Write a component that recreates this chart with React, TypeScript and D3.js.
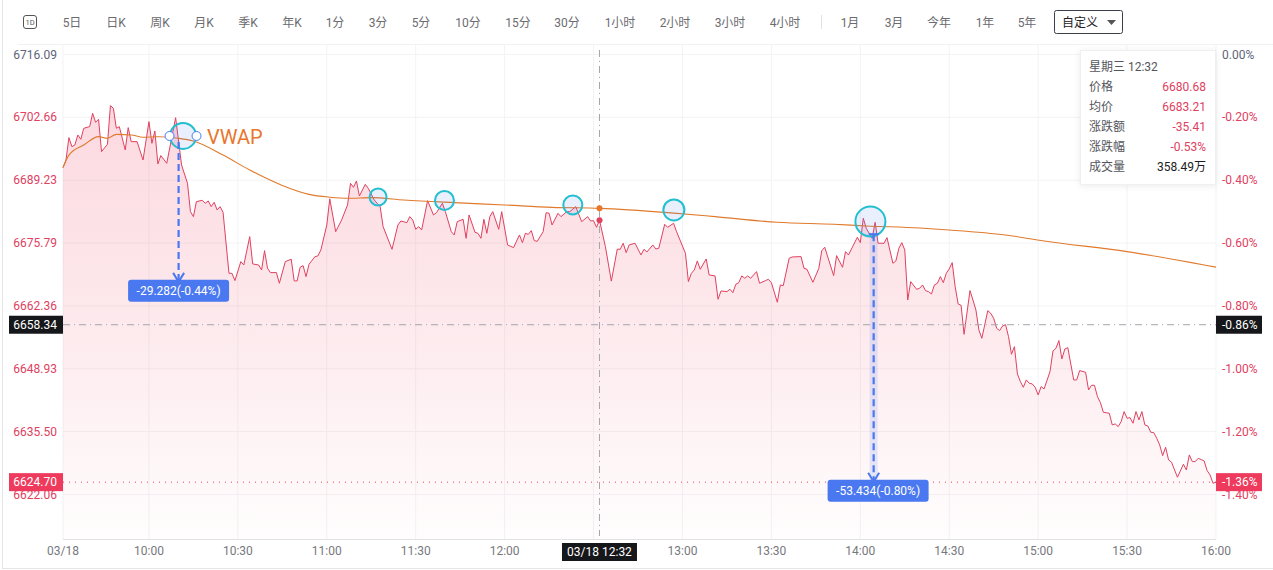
import { useEffect, useRef } from 'react';
import * as d3 from 'd3';

// toolbar
const toolbarLabels = ['5日', '日K', '周K', '月K', '季K', '年K', '1分', '3分', '5分', '10分', '15分', '30分', '1小时', '2小时', '3小时', '4小时', '1月', '3月', '今年', '1年', '5年'];
const toolbarCenters = [72, 116, 160, 204, 248, 292, 335, 378, 421, 468, 518, 567, 620, 675, 730, 785, 850, 894, 939, 985, 1027];

// axes
const yTicks = [6716.09, 6702.66, 6689.23, 6675.79, 6662.36, 6648.93, 6635.5, 6622.06];
const pctLabels = ['0.00%', '-0.20%', '-0.40%', '-0.60%', '-0.80%', '-1.00%', '-1.20%', '-1.40%'];
const gridMinutes = [30, 60, 90, 120, 150, 180, 210, 240, 270, 300, 330, 360, 390];
const timeLabels = ['10:00', '10:30', '11:00', '11:30', '12:00', '', '13:00', '13:30', '14:00', '14:30', '15:00', '15:30', '16:00'];

// minutes since 09:30
const minutes = [
  1, 2, 3, 4, 5, 6, 7, 8, 10, 11, 12, 13, 14, 16, 17, 18, 19, 20, 22, 23, 24, 26, 28, 30, 31, 32, 33, 34, 36, 39, 41, 43, 44, 45, 46, 48, 49, 50, 51, 52, 53, 54, 55, 57, 58, 59, 61, 62, 64, 65, 67, 68, 69, 70, 71, 73, 74, 76, 78, 79, 80, 81, 82, 83, 84, 86, 87, 88, 90, 91,
  93, 95, 97, 98, 99, 100, 101, 103, 104, 106, 107, 108, 109, 112, 114, 115, 117, 118, 119, 120, 121, 122, 124, 126, 127, 129, 130, 132, 133, 134, 136, 137, 138, 140, 141, 142, 143, 144, 145, 146, 148, 149, 151, 153, 155, 156, 157, 158, 159, 160, 161, 163, 164, 165, 166, 168, 169, 171, 172, 174, 176, 178, 179, 180, 181, 182,
  184, 186, 188, 189, 190, 191, 192, 194, 196, 197, 198, 200, 201, 202, 204, 205, 207, 208, 211, 212, 213, 214, 215, 216, 218, 219, 221, 222, 223, 225, 226, 227, 228, 229, 230, 231, 232, 233, 235, 236, 238, 239, 240, 242, 243, 244, 246, 247, 250, 251, 252, 254, 256, 257, 258, 261, 262, 264, 265, 266, 269, 270, 271, 272, 274, 275, 276, 278, 279,
  281, 282, 283, 284, 285, 286, 287, 289, 290, 291, 292, 293, 294, 295, 296, 297, 298, 299, 300, 301, 302, 303, 304, 305, 307, 308, 309, 310, 311, 313, 314, 315, 316, 317, 318, 319, 320, 321, 322, 323, 324, 325, 326, 327, 328, 329, 330, 331, 332, 334, 335, 336, 337, 338, 339, 340, 342, 343, 344, 346, 347, 348, 349, 350, 351, 352, 354, 355, 356, 357, 358, 359, 360, 361, 362, 363, 364, 365, 366, 367, 368, 369, 370, 371, 372, 373, 374, 375, 377, 379, 380, 381, 382, 383, 384, 386, 387, 388, 389, 390,
];
const prices = [
  6691.91, 6693.55, 6698.32, 6696.4, 6696.75, 6698.89, 6697.97, 6700.32, 6700.67, 6703.52, 6701.6, 6702.24, 6695.33, 6696.9, 6705.16, 6704.59, 6700.32, 6700.67, 6695.69, 6700.46, 6697.47, 6697.47, 6693.55, 6701.74, 6697.11, 6699.75, 6692.7, 6694.48, 6692.84, 6702.59, 6692.48, 6688.56, 6682.51, 6681.44, 6684.65, 6684.93, 6684.29, 6684.79, 6683.58, 6684.5, 6682.87, 6683.58, 6682.37, 6669.33, 6669.33, 6667.77, 6671.83, 6671.11, 6677.17, 6671.33, 6671.11, 6670.05, 6674.18, 6670.4, 6669.48, 6669.48, 6667.2, 6671.83, 6672.33, 6667.7, 6667.7, 6670.62, 6670.97, 6668.62, 6671.26, 6672.9, 6673.04, 6674.32, 6679.66, 6685.25,
  6678.23, 6680.73, 6683.93, 6688.56, 6687.71, 6689.06, 6685.85, 6688.35, 6687.49, 6685.0, 6684.29, 6683.58, 6679.3, 6674.46, 6679.66, 6680.51, 6680.16, 6681.44, 6680.73, 6678.73, 6679.3, 6678.59, 6684.86, 6681.8, 6682.29, 6684.29, 6682.51, 6678.23, 6677.52, 6680.37, 6680.87, 6676.81, 6681.8, 6678.09, 6677.88, 6676.81, 6680.87, 6677.88, 6681.44, 6682.51, 6678.73, 6682.51, 6675.39, 6674.82, 6677.52, 6675.88, 6677.88, 6677.66, 6678.45, 6676.31, 6676.17, 6678.23, 6682.29, 6682.15, 6679.66, 6682.15, 6681.44, 6682.51, 6682.51, 6683.58, 6680.37, 6681.44, 6680.51, 6680.58, 6679.16, 6680.68,
  6675.03, 6667.66, 6674.5, 6674.46, 6675.75, 6673.75, 6675.39, 6675.75, 6673.25, 6674.46, 6673.89, 6675.39, 6674.53, 6674.68, 6679.8, 6679.16, 6680.02, 6678.24, 6673.61, 6667.55, 6669.33, 6670.05, 6671.97, 6670.19, 6672.4, 6668.98, 6668.77, 6663.78, 6665.56, 6665.42, 6665.92, 6665.2, 6666.98, 6667.34, 6668.77, 6668.27, 6668.77, 6668.27, 6669.69, 6667.2, 6667.77, 6668.05, 6667.34, 6663.14, 6666.84, 6666.7, 6672.54, 6672.82, 6672.9, 6670.4, 6670.19, 6667.41, 6670.4, 6674.18, 6674.89, 6668.84, 6673.11, 6670.62, 6673.96, 6673.25, 6677.03, 6675.89, 6681.09, 6678.95, 6676.81, 6680.23, 6675.75, 6675.75, 6676.96,
  6671.47, 6671.97, 6674.67, 6675.88, 6674.32, 6663.63, 6667.55, 6665.91, 6666.13, 6666.84, 6665.63, 6665.41, 6664.92, 6666.84, 6667.2, 6668.62, 6667.34, 6669.33, 6670.26, 6671.61, 6666.48, 6662.78, 6662.49, 6656.3, 6665.63, 6663.63, 6661.5, 6657.22, 6655.44, 6661.35, 6660.78, 6659.72, 6657.58, 6657.08, 6658.08, 6658.36, 6655.8, 6652.03, 6653.66, 6647.82, 6646.18, 6644.97, 6646.54, 6645.83, 6645.69, 6644.97, 6643.34, 6645.12, 6644.62, 6648.32, 6652.74, 6653.31, 6654.95, 6651.03, 6653.16, 6653.45, 6646.54, 6646.54, 6648.54, 6648.18, 6644.4, 6645.4, 6645.4, 6642.98, 6641.7, 6639.63, 6639.42, 6636.93, 6637.14, 6636.57, 6637.64, 6639.78, 6638.35, 6638.49, 6637.28, 6639.78, 6638.0, 6639.78, 6636.93, 6636.71, 6635.36, 6635.29, 6634.08, 6632.65, 6630.37, 6632.15, 6629.45, 6628.95, 6625.75, 6628.52, 6627.31, 6630.52, 6629.09, 6629.09, 6629.8, 6629.23, 6627.17, 6626.24, 6624.46, 6624.7,
];

const vwapMinutes = [1, 3, 8, 13, 16, 19, 24, 28, 33, 40, 45, 55, 64, 75, 84, 91, 97, 105, 116, 133, 150, 166, 182, 205, 221, 242, 261, 272, 290, 300, 319, 332, 360, 390];
const vwapPrices = [6691.91, 6694.6, 6696.75, 6698.53, 6698.18, 6699.03, 6698.9, 6698.4, 6698.5, 6698.18, 6697.6, 6694.6, 6691.4, 6688.1, 6686.2, 6685.6, 6685.36, 6685.5, 6685.0, 6684.43, 6683.93, 6683.43, 6683.21, 6682.3, 6681.44, 6680.23, 6679.8, 6679.45, 6679.0, 6678.59, 6677.52, 6676.24, 6673.96, 6670.65];

// tooltip
const tipLabels = ['价格', '均价', '涨跌额', '涨跌幅', '成交量'];
const tipValues = ['6680.68', '6683.21', '-35.41', '-0.53%', '358.49万'];

// hand drawn marks on the chart
const ringMinutes = [41.5, 107.3, 129.7, 173, 207.1, 273.4];
const ringPrices = [6698.68, 6685.64, 6684.9, 6683.94, 6682.87, 6680.41];
const ringRadius = [13, 8.5, 9.5, 9.5, 10.5, 15];

const measureMinutes = [40, 274.5];
const measureFrom = [6697.4, 6677.7];
const measureTo = [6667.5, 6624.8];
const measureLabels = ['-29.282(-0.44%)', '-53.434(-0.80%)'];
const measureLabelMinutes = [40, 276];

const RED = '#e0415f';
const BLUE = '#4a78f0';
const FONT = "Roboto, 'Noto Sans CJK SC', sans-serif";

export default function App() {
  const ref = useRef<SVGSVGElement>(null);

  useEffect(() => {
    const svg = d3.select(ref.current);
    svg.selectAll('*').remove();
    svg.attr('font-family', FONT).attr('font-size', 12);

    const left = 63;
    const right = 1216;
    const bottom = 539;
    const x = d3.scaleLinear().domain([1, 390]).range([left, right]);
    const y = d3.scaleLinear().domain([6716.09, 6622.06]).range([54.5, 494.5]);

    const grad = svg.append('defs').append('linearGradient')
      .attr('id', 'areaFill')
      .attr('gradientUnits', 'userSpaceOnUse')
      .attr('x1', 0).attr('x2', 0).attr('y1', 105).attr('y2', bottom);
    grad.append('stop').attr('offset', 0).attr('stop-color', '#ee4a68').attr('stop-opacity', 0.21);
    grad.append('stop').attr('offset', 0.5).attr('stop-color', '#ee4a68').attr('stop-opacity', 0.12);
    grad.append('stop').attr('offset', 1).attr('stop-color', '#ee4a68').attr('stop-opacity', 0.01);

    // page frame
    svg.append('line').attr('x1', 2.5).attr('x2', 2.5).attr('y1', 0).attr('y2', 568).attr('stroke', '#e6e6e8');
    svg.append('line').attr('x1', 2).attr('x2', 1273).attr('y1', 568.5).attr('y2', 568.5).attr('stroke', '#e6e6e8');

    // toolbar
    svg.append('rect').attr('x', 23.5).attr('y', 15.5).attr('width', 13).attr('height', 13).attr('rx', 2.5)
      .attr('fill', 'none').attr('stroke', '#555');
    svg.append('text').attr('x', 30).attr('y', 25).attr('text-anchor', 'middle').attr('font-size', 7.5).attr('fill', '#555').text('1D');
    svg.append('g').selectAll('text').data(toolbarLabels).enter().append('text')
      .attr('x', (_, i) => toolbarCenters[i])
      .attr('y', 26.5)
      .attr('text-anchor', 'middle')
      .attr('fill', '#6b6b70')
      .text((d) => d);
    svg.append('line').attr('x1', 821.5).attr('x2', 821.5).attr('y1', 15).attr('y2', 29).attr('stroke', '#e2e2e4');
    svg.append('rect').attr('x', 1054.5).attr('y', 10.5).attr('width', 68).attr('height', 23).attr('rx', 2)
      .attr('fill', '#fff').attr('stroke', '#3a3f4a');
    svg.append('text').attr('x', 1062).attr('y', 26.5).attr('fill', '#222').text('自定义');
    svg.append('path').attr('d', 'M1107 20h9l-4.5 5z').attr('fill', '#555');
    svg.append('line').attr('x1', 18).attr('x2', 1273).attr('y1', 44.5).attr('y2', 44.5).attr('stroke', '#f1f1f3');

    // grid
    const grid = svg.append('g').attr('stroke', '#f2f3f5');
    grid.selectAll('.h').data(yTicks).enter().append('line').attr('class', 'h')
      .attr('x1', left).attr('x2', right).attr('y1', (d) => y(d)).attr('y2', (d) => y(d));
    grid.selectAll('.v').data(gridMinutes).enter().append('line').attr('class', 'v')
      .attr('x1', (d) => x(d)).attr('x2', (d) => x(d)).attr('y1', 44).attr('y2', bottom);
    grid.append('line').attr('x1', left).attr('x2', left).attr('y1', 44).attr('y2', bottom);
    svg.append('line').attr('x1', left).attr('x2', right).attr('y1', bottom + 0.5).attr('y2', bottom + 0.5).attr('stroke', '#e2e2e5');

    // price
    const points = minutes.map((m, i) => [m, prices[i]] as [number, number]);
    const area = d3.area<[number, number]>().x((d) => x(d[0])).y0(bottom).y1((d) => y(d[1]));
    const line = d3.line<[number, number]>().x((d) => x(d[0])).y((d) => y(d[1]));
    svg.append('path').attr('d', area(points)).attr('fill', 'url(#areaFill)');
    svg.append('path').attr('d', line(points)).attr('fill', 'none').attr('stroke', RED).attr('stroke-width', 1);

    const vwap = vwapMinutes.map((m, i) => [m, vwapPrices[i]] as [number, number]);
    const smooth = d3.line<[number, number]>().x((d) => x(d[0])).y((d) => y(d[1])).curve(d3.curveMonotoneX);
    svg.append('path').attr('d', smooth(vwap)).attr('fill', 'none').attr('stroke', '#e07a2c').attr('stroke-width', 1.1);

    // crosshair and last price line
    const cross = svg.append('g').attr('stroke', '#a4a6ad').attr('stroke-dasharray', '7 4 1 4');
    cross.append('line').attr('x1', x(182)).attr('x2', x(182)).attr('y1', 50).attr('y2', 536);
    cross.append('line').attr('x1', left).attr('x2', right).attr('y1', y(6658.34)).attr('y2', y(6658.34));
    svg.append('line').attr('x1', left).attr('x2', right).attr('y1', y(6624.7)).attr('y2', y(6624.7))
      .attr('stroke', RED).attr('stroke-dasharray', '1 5');

    svg.append('circle').attr('cx', x(182)).attr('cy', y(6683.21)).attr('r', 3).attr('fill', '#e8762c');
    svg.append('circle').attr('cx', x(182)).attr('cy', y(6680.68)).attr('r', 3).attr('fill', RED);

    // rings
    ringMinutes.forEach((m, i) => {
      svg.append('circle').attr('cx', x(m)).attr('cy', y(ringPrices[i])).attr('r', ringRadius[i])
        .attr('fill', BLUE).attr('fill-opacity', 0.12);
      svg.append('circle').attr('cx', x(m)).attr('cy', y(ringPrices[i])).attr('r', ringRadius[i])
        .attr('fill', 'none').attr('stroke', '#22bfd0').attr('stroke-width', 2);
    });
    [-13.5, 13.5].forEach((dx) => {
      svg.append('circle').attr('cx', x(ringMinutes[0]) + dx).attr('cy', y(ringPrices[0])).attr('r', 4.5)
        .attr('fill', '#fff').attr('stroke', BLUE);
    });
    svg.append('text').attr('x', 207).attr('y', 144).attr('font-size', 20).attr('fill', '#e8762c').text('VWAP');

    // measure arrows
    measureMinutes.forEach((m, i) => {
      const mx = x(m);
      const y0 = y(measureFrom[i]);
      const y1 = y(measureTo[i]);
      if (i === 1) {
        svg.append('rect').attr('x', mx - 4).attr('y', y0).attr('width', 8).attr('height', y1 - y0)
          .attr('fill', BLUE).attr('fill-opacity', 0.14);
        svg.append('line').attr('x1', mx - 5).attr('x2', mx + 5).attr('y1', y0).attr('y2', y0).attr('stroke', BLUE).attr('stroke-width', 2);
      }
      svg.append('line').attr('x1', mx).attr('x2', mx).attr('y1', y0).attr('y2', y1)
        .attr('stroke', BLUE).attr('stroke-width', 2.2).attr('stroke-dasharray', '7 4');
      svg.append('path').attr('d', `M${mx - 5.5} ${y1 - 9}L${mx} ${y1}L${mx + 5.5} ${y1 - 9}`)
        .attr('fill', 'none').attr('stroke', BLUE).attr('stroke-width', 2);
      const lx = x(measureLabelMinutes[i]);
      svg.append('rect').attr('x', lx - 50.5).attr('y', y1 - 2).attr('width', 101).attr('height', 22).attr('rx', 3).attr('fill', BLUE);
      svg.append('text').attr('x', lx).attr('y', y1 + 13).attr('text-anchor', 'middle').attr('fill', '#fff').text(measureLabels[i]);
    });

    // y labels
    svg.append('g').selectAll('text').data(yTicks).enter().append('text')
      .attr('x', 57).attr('y', (d) => y(d) + 4).attr('text-anchor', 'end')
      .attr('fill', (_, i) => (i === 0 ? '#5d6478' : RED))
      .text((d) => d.toFixed(2));
    svg.append('g').selectAll('text').data(pctLabels).enter().append('text')
      .attr('x', 1222).attr('y', (_, i) => y(yTicks[i]) + 4)
      .attr('fill', (_, i) => (i === 0 ? '#5d6478' : RED))
      .text((d) => d);

    // value tags on the axes
    const tag = (tx: number, w: number, price: number, label: string, fill: string, textX: number, anchor: string) => {
      svg.append('rect').attr('x', tx).attr('y', y(price) - 9).attr('width', w).attr('height', 18).attr('fill', fill);
      svg.append('text').attr('x', textX).attr('y', y(price) + 4).attr('text-anchor', anchor).attr('fill', '#fff').text(label);
    };
    tag(9, 54, 6658.34, '6658.34', '#16171a', 57, 'end');
    tag(1216, 46, 6658.34, '-0.86%', '#16171a', 1222, 'start');
    tag(9, 54, 6624.7, '6624.70', '#ee3a5c', 57, 'end');
    tag(1216, 46, 6624.7, '-1.36%', '#ee3a5c', 1222, 'start');

    // x labels
    svg.append('text').attr('x', left).attr('y', 555).attr('text-anchor', 'middle').attr('fill', '#77787d').text('03/18');
    svg.append('g').selectAll('text').data(gridMinutes.filter((_, i) => timeLabels[i] !== '')).enter().append('text')
      .attr('x', (d) => x(d)).attr('y', 555).attr('text-anchor', 'middle').attr('fill', '#77787d')
      .text((d) => timeLabels[gridMinutes.indexOf(d)]);
    svg.append('rect').attr('x', x(182) - 37.5).attr('y', 543).attr('width', 75).attr('height', 18).attr('fill', '#16171a');
    svg.append('text').attr('x', x(182)).attr('y', 556).attr('text-anchor', 'middle').attr('fill', '#fff').text('03/18 12:32');

    // tooltip
    svg.append('rect').attr('x', 1080.5).attr('y', 50.5).attr('width', 135).attr('height', 134)
      .attr('fill', '#fff').attr('stroke', '#f0f0f2').style('filter', 'drop-shadow(0 1px 3px rgba(0,0,0,0.08))');
    svg.append('text').attr('x', 1089).attr('y', 70.5).attr('fill', '#55565c').text('星期三 12:32');
    tipLabels.forEach((label, i) => {
      const rowY = 91 + i * 20;
      svg.append('text').attr('x', 1089).attr('y', rowY).attr('fill', '#55565c').text(label);
      svg.append('text').attr('x', 1206).attr('y', rowY).attr('text-anchor', 'end')
        .attr('fill', i === 4 ? '#1c1c20' : RED).text(tipValues[i]);
    });
  }, []);

  return <svg ref={ref} width={1273} height={570} style={{ position: 'absolute', left: 0, top: 0, display: 'block', background: '#fff' }} />;
}
